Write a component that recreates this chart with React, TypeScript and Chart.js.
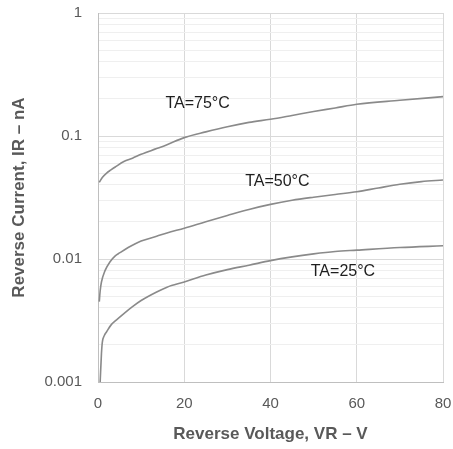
import React, { useEffect, useRef } from "react";
import { Chart, registerables } from "chart.js";

Chart.register(...registerables);

// Reverse voltage (V) and reverse current (nA) for each temperature curve
const voltage75 = [0.3, 1, 2, 3, 4, 6, 8, 10, 13.6, 16, 20, 25, 30, 35, 40, 45, 50, 55, 60, 70, 80];
const current75 = [0.042, 0.046, 0.05, 0.053, 0.056, 0.062, 0.066, 0.071, 0.079, 0.085, 0.097, 0.108, 0.119, 0.129, 0.137, 0.147, 0.158, 0.169, 0.181, 0.195, 0.209];

const voltage50 = [0.3, 0.5, 0.8, 1.6, 2.8, 4, 5, 7, 10, 13.6, 16, 20, 25, 30, 35, 40, 45, 50, 55, 60, 65, 70, 75, 80];
const current50 = [0.0045, 0.0055, 0.0065, 0.008, 0.0095, 0.0106, 0.0112, 0.0124, 0.014, 0.0153, 0.0163, 0.0178, 0.0201, 0.0226, 0.0253, 0.0278, 0.03, 0.0318, 0.0335, 0.0352, 0.0378, 0.0405, 0.0426, 0.0439];

const voltage25 = [0.5, 0.8, 1, 1.5, 2, 3, 4.3, 6, 8, 10, 13.6, 16, 20, 25, 30, 35, 40, 45, 50, 55, 60, 70, 80];
const current25 = [0.001, 0.0017, 0.0021, 0.0024, 0.00256, 0.0029, 0.0032, 0.0036, 0.0041, 0.0046, 0.0054, 0.0059, 0.0065, 0.0074, 0.0082, 0.0089, 0.0097, 0.0104, 0.011, 0.0115, 0.0118, 0.0124, 0.0128];

// Curve labels
const labelTexts = ["TA=75°C", "TA=50°C", "TA=25°C"];
const labelVoltage = [23.1, 41.6, 56.8];
const labelCurrent = [0.182, 0.0423, 0.00784];

// Axis ticks
const xTicks = [0, 20, 40, 60, 80];
const yDecades = [0.001, 0.01, 0.1];
const yMultiples = [1, 2, 3, 4, 5, 6, 7, 8, 9];
const yTop = 1;

const yTickValues: number[] = [];
yDecades.forEach((d) => yMultiples.forEach((m) => yTickValues.push(parseFloat((d * m).toPrecision(3)))));
yTickValues.push(yTop);

const isDecade = (v: number) => Math.abs(Math.log10(v) - Math.round(Math.log10(v))) < 1e-9;

const toPoints = (xs: number[], ys: number[]) => xs.map((x, i) => ({ x, y: ys[i] }));

const FONT = "'Liberation Sans', Arial, sans-serif";
const LINE_COLOR = "#8a8a8a";

const labelPlugin = {
  id: "curveLabels",
  afterDatasetsDraw(chart: any) {
    const { ctx, scales } = chart;
    ctx.save();
    ctx.font = `16px ${FONT}`;
    ctx.fillStyle = "#1e1e1e";
    ctx.textAlign = "center";
    ctx.textBaseline = "middle";
    labelTexts.forEach((t, i) => {
      ctx.fillText(t, scales.x.getPixelForValue(labelVoltage[i]), scales.y.getPixelForValue(labelCurrent[i]));
    });
    ctx.restore();
  },
};

export default function App() {
  const canvasRef = useRef<HTMLCanvasElement | null>(null);

  useEffect(() => {
    document.body.style.margin = "0";
    const canvas = canvasRef.current;
    if (!canvas) return;
    const mk = (xs: number[], ys: number[]) => ({
      data: toPoints(xs, ys),
      borderColor: LINE_COLOR,
      borderWidth: 1.6,
      pointRadius: 0,
      fill: false,
      cubicInterpolationMode: "monotone" as const,
    });
    const chart = new Chart(canvas, {
      type: "line",
      data: {
        datasets: [mk(voltage75, current75), mk(voltage50, current50), mk(voltage25, current25)],
      },
      plugins: [labelPlugin],
      options: {
        animation: false,
        responsive: false,
        devicePixelRatio: 1,
        layout: { padding: { top: 13, right: 10, left: 0, bottom: 0 } },
        plugins: { legend: { display: false }, tooltip: { enabled: false } },
        scales: {
          x: {
            type: "linear",
            min: 0,
            max: 80,
            afterBuildTicks: (scale: any) => {
              scale.ticks = xTicks.map((v) => ({ value: v }));
            },
            afterFit: (scale: any) => {
              scale.height = 67;
              scale.paddingLeft = 0;
              scale.paddingRight = 0;
            },
            ticks: {
              padding: 13,
              color: "#595959",
              font: { family: FONT, size: 15 },
              maxRotation: 0,
              autoSkip: false,
            },
            grid: { color: "#d9d9d9", lineWidth: 1, drawTicks: false },
            border: { color: "#bfbfbf", width: 1 },
            title: {
              display: true,
              text: "Reverse Voltage, VR – V",
              color: "#595959",
              font: { family: FONT, size: 17, weight: "bold" },
              padding: { top: 0, bottom: 4 },
            },
          },
          y: {
            type: "logarithmic",
            min: 0.001,
            max: 1,
            afterBuildTicks: (scale: any) => {
              scale.ticks = yTickValues.map((v) => ({ value: v }));
            },
            afterFit: (scale: any) => {
              scale.width = 98;
              scale.paddingTop = 0;
              scale.paddingBottom = 0;
            },
            ticks: {
              padding: 16,
              color: "#595959",
              font: { family: FONT, size: 15 },
              autoSkip: false,
              callback: (v: any) => (isDecade(Number(v)) ? String(Number(v)) : ""),
            },
            grid: {
              color: (c: any) => (c.tick && isDecade(c.tick.value) ? "#d9d9d9" : "#efefef"),
              lineWidth: 1,
              drawTicks: false,
            },
            border: { color: "#bfbfbf", width: 1 },
            title: {
              display: true,
              text: "Reverse Current, IR – nA",
              color: "#595959",
              font: { family: FONT, size: 17, weight: "bold" },
              padding: { top: 9, bottom: 0 },
            },
          },
        },
      },
    });
    return () => chart.destroy();
  }, []);

  return (
    <div style={{ position: "absolute", left: 0, top: 0, width: 453, height: 449 }}>
      <canvas ref={canvasRef} width={453} height={449} style={{ width: 453, height: 449 }} />
    </div>
  );
}
